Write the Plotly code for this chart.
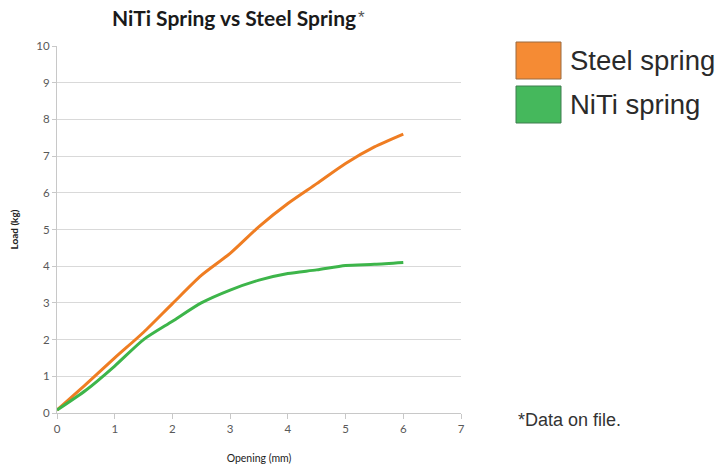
import plotly.graph_objects as go

opening = [0, 0.5, 1, 1.5, 2, 2.5, 3, 3.5, 4, 4.5, 5, 5.5, 6]
steel = [0.08, 0.78, 1.5, 2.2, 2.98, 3.75, 4.35, 5.08, 5.71, 6.25, 6.8, 7.25, 7.6]
niti = [0.08, 0.62, 1.28, 2.0, 2.5, 3.0, 3.35, 3.62, 3.8, 3.9, 4.02, 4.05, 4.1]
x_ticks = [0, 1, 2, 3, 4, 5, 6, 7]
y_ticks = [0, 1, 2, 3, 4, 5, 6, 7, 8, 9, 10]
series_names = ["Steel spring", "NiTi spring"]
line_colors = ["#ef7d22", "#3db54a"]
swatch_colors = ["#f58b34", "#45b85c"]
swatch_borders = ["#9a6a40", "#3f7d4f"]

W, H = 718, 466
ml, mr, mt, mb = 57, 257, 46, 53
PW, PH = W - ml - mr, H - mt - mb

fig = go.Figure()
for name, ys, col in zip(series_names, [steel, niti], line_colors):
    fig.add_trace(go.Scatter(x=opening, y=ys, mode="lines", name=name,
                             line=dict(color=col, width=3, shape="spline", smoothing=0.7),
                             showlegend=False, hoverinfo="skip"))

def px_x(p):
    return (p - ml) / PW

def px_y(p):
    return (H - mb - p) / PH

# custom legend (big swatches)
sw_top = [42, 86]
for i, name in enumerate(series_names):
    t = sw_top[i]
    fig.add_shape(type="rect", xref="paper", yref="paper",
                  x0=px_x(516), x1=px_x(561), y0=px_y(t), y1=px_y(t + 37),
                  fillcolor=swatch_colors[i], line=dict(color=swatch_borders[i], width=1))
    fig.add_annotation(xref="paper", yref="paper", x=px_x(568), y=px_y(t + 18.5),
                       text=name, showarrow=False, xanchor="left", yanchor="middle",
                       font=dict(family="Liberation Sans", size=27.5, color="#2a2a2a"))

fig.add_annotation(xref="paper", yref="paper", x=px_x(516), y=px_y(420),
                   text="*Data on file.", showarrow=False, xanchor="left", yanchor="middle",
                   font=dict(family="Liberation Sans", size=18, color="#333333"))

# title asterisk
fig.add_annotation(xref="paper", yref="paper", x=px_x(356), y=px_y(18),
                   text="*", showarrow=False, xanchor="left", yanchor="middle",
                   font=dict(family="Liberation Sans", size=17, color="#555555"))

fig.update_layout(
    width=W, height=H,
    margin=dict(l=ml, r=mr, t=mt, b=mb, autoexpand=False),
    paper_bgcolor="white", plot_bgcolor="white",
    title=dict(text="<b>NiTi Spring vs Steel Spring</b>",
               x=234 / W, xanchor="center", y=1 - 19 / H, yanchor="middle",
               font=dict(family="Lato", size=21, color="#1a1a1a")),
    xaxis=dict(range=[0, 7], tickvals=x_ticks, showgrid=False, zeroline=False,
               showline=True, linecolor="#c8c8c8", linewidth=1,
               ticks="outside", ticklen=5, tickcolor="#c8c8c8",
               tickfont=dict(family="Lato", size=11.5, color="#595959"),
               title=dict(text="Opening (mm)", standoff=20,
                          font=dict(family="Lato", size=10.5, color="#222222"))),
    yaxis=dict(range=[0, 10], tickvals=y_ticks, showgrid=True, gridcolor="#d9d9d9",
               gridwidth=1, zeroline=False,
               showline=True, linecolor="#c8c8c8", linewidth=1,
               ticks="outside", ticklen=4, tickcolor="#c8c8c8",
               tickfont=dict(family="Lato", size=11.5, color="#595959"),
               title=dict(text="<b>Load (kg)</b>", standoff=15,
                          font=dict(family="Lato", size=10, color="#222222"))),
)

fig.write_html("out.html", config={"displayModeBar": False},
               post_script="document.body.style.margin='0';document.body.style.overflow='hidden';")
